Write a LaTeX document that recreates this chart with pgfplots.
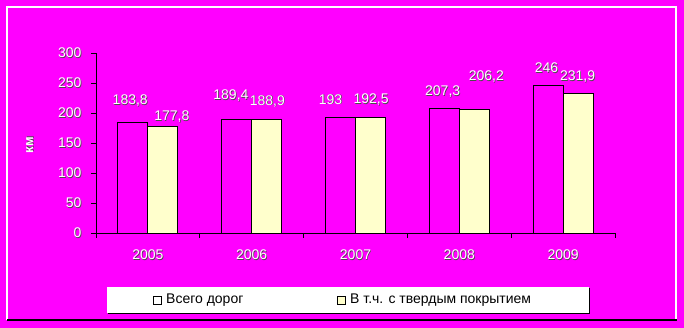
\documentclass[border=0pt]{standalone}
\usepackage{pgfplots}
\pgfplotsset{compat=1.18}
\usepackage{fontspec}
\setmainfont{Liberation Sans}
\definecolor{bg}{RGB}{255,0,255}
\definecolor{yel}{RGB}{255,255,204}
\newcommand{\fs}{\fontsize{14}{16}\selectfont}
\newcommand{\sh}[1]{\makebox[0pt][l]{\hspace{0.7pt}\raisebox{-0.7pt}{\color{black!70}#1}}{\color{white}#1}}
\begin{document}
\begin{tikzpicture}[x=1pt,y=1pt]
\fill[bg] (0,0) rectangle (684,328);
% frame
\draw[white, line width=1.2pt] (7,8) -- (7,321) -- (676,321) -- (676,7);
\draw[black, line width=1.5pt] (7,8) -- (677,8);
\begin{axis}[
  at={(96pt,95pt)}, anchor=south west,
  scale only axis, width=519pt, height=180pt,
  xmin=-0.5, xmax=4.5, ymin=0, ymax=300,
  axis x line*=bottom, axis y line*=left,
  axis line style={black, line width=0.9pt},
  ytick={0,50,...,300},
  yticklabel={\sh{\pgfmathprintnumber{\tick}}},
  xtick={-0.5,0.5,...,4.5}, xticklabels={},
  extra x ticks={0,1,2,3,4},
  extra x tick labels={\sh{2005},\sh{2006},\sh{2007},\sh{2008},\sh{2009}},
  extra x tick style={major tick length=0pt, xticklabel style={yshift=-13pt}},
  tick align=outside, major tick length=5pt,
  tick style={black, line width=0.8pt},
  every tick label/.append style={white, font=\fs},
  /pgf/number format/assume math mode=true,
  yticklabel style={xshift=-6pt},
  clip=false,
]
\addplot[ybar, bar width=30pt, bar shift=-15pt, draw=black, line width=0.9pt, fill=none]
  coordinates {(0,183.8) (1,189.4) (2,193) (3,207.3) (4,246)};
\addplot[ybar, bar width=30pt, bar shift=15pt, draw=black, line width=0.9pt, fill=yel]
  coordinates {(0,177.8) (1,188.9) (2,192.5) (3,206.2) (4,231.9)};
% data labels
\begin{scope}[every node/.style={font=\fs, inner sep=0pt}]
\node at (axis cs:-0.17,220) {\sh{183,8}};
\node at (axis cs:0.80,228) {\sh{189,4}};
\node at (axis cs:1.76,222) {\sh{193}};
\node at (axis cs:2.15,222) {\sh{192,5}};
\node at (axis cs:2.84,235) {\sh{207,3}};
\node at (axis cs:3.84,275) {\sh{246}};
\node at (axis cs:0.23,193) {\sh{177,8}};
\node at (axis cs:1.15,219) {\sh{188,9}};
\node at (axis cs:3.26,260) {\sh{206,2}};
\node at (axis cs:4.14,260) {\sh{231,9}};
\end{scope}
\end{axis}
% y label
\node[rotate=90, font=\fontsize{13}{15}\selectfont\bfseries] at (30,183) {\sh{км}};
% legend
\fill[black] (108,13.5) rectangle (590,40);
\fill[white] (107,15) rectangle (589,41);
\draw[black, line width=0.9pt, fill=white] (153,24) rectangle (161,32);
\node[anchor=west, inner sep=0pt, font=\fs] at (166,28) {Всего дорог};
\draw[black, line width=0.9pt, fill=yel] (337,24) rectangle (345,32);
\node[anchor=west, inner sep=0pt, font=\fs] at (350,28) {В т.ч. с твердым покрытием};
\end{tikzpicture}
\end{document}
